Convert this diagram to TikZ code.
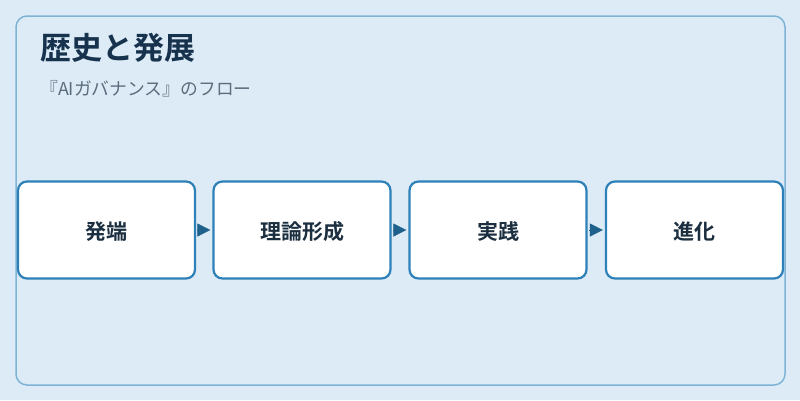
\documentclass[tikz,border=0pt]{standalone}
\usepackage{fontspec}
\setmainfont{Noto Sans CJK JP}
\newfontfamily\jpbold{Noto Sans CJK JP Bold}
\usetikzlibrary{arrows.meta}
\definecolor{bgc}{HTML}{DCEBF6}
\definecolor{framec}{HTML}{7FB3D5}
\definecolor{boxc}{HTML}{2E80B8}
\definecolor{arrc}{HTML}{1F618D}
\definecolor{titlec}{HTML}{17324D}
\definecolor{subc}{HTML}{5D6D7E}
\definecolor{textc}{HTML}{1B2F40}
\tikzset{
  stepbox/.style={draw=boxc, fill=white, line width=2.2pt, rounded corners=9pt,
    minimum width=177pt, minimum height=97pt, inner sep=0pt,
    font=\jpbold\fontsize{21pt}{24pt}\selectfont, text=textc},
  flow/.style={draw=arrc, line width=0.4pt, shorten >=2pt, shorten <=1pt,
    -{Triangle[length=13pt,width=13pt]}, arrc}
}
\newcommand{\boxtext}[1]{\raisebox{-2pt}[\height][\depth]{#1}}
\begin{document}
\begin{tikzpicture}[x=1pt,y=-1pt]
\useasboundingbox (0,0) rectangle (800,400);
\fill[bgc] (0,0) rectangle (800,400);
\draw[framec, line width=1.5pt, rounded corners=11pt, fill=bgc] (16,16) rectangle (785,385);
\node[anchor=base west, inner sep=0pt, text=titlec, font=\jpbold\fontsize{31pt}{34pt}\selectfont] (title) at (40,59) {歴史と発展};
\node[anchor=base west, inner sep=0pt, text=subc, font=\fontsize{17.8pt}{21pt}\selectfont] (sub) at (40,95) {『AIガバナンス』のフロー};
\node[stepbox] (b1) at (106.5,230) {\boxtext{発端}};
\node[stepbox] (b2) at (302,230) {\boxtext{理論形成}};
\node[stepbox] (b3) at (498,230) {\boxtext{実践}};
\node[stepbox] (b4) at (694.5,230) {\boxtext{進化}};
\draw[flow] (b1.east) -- (b2.west);
\draw[flow] (b2.east) -- (b3.west);
\draw[flow] (b3.east) -- (b4.west);
\end{tikzpicture}
\end{document}
